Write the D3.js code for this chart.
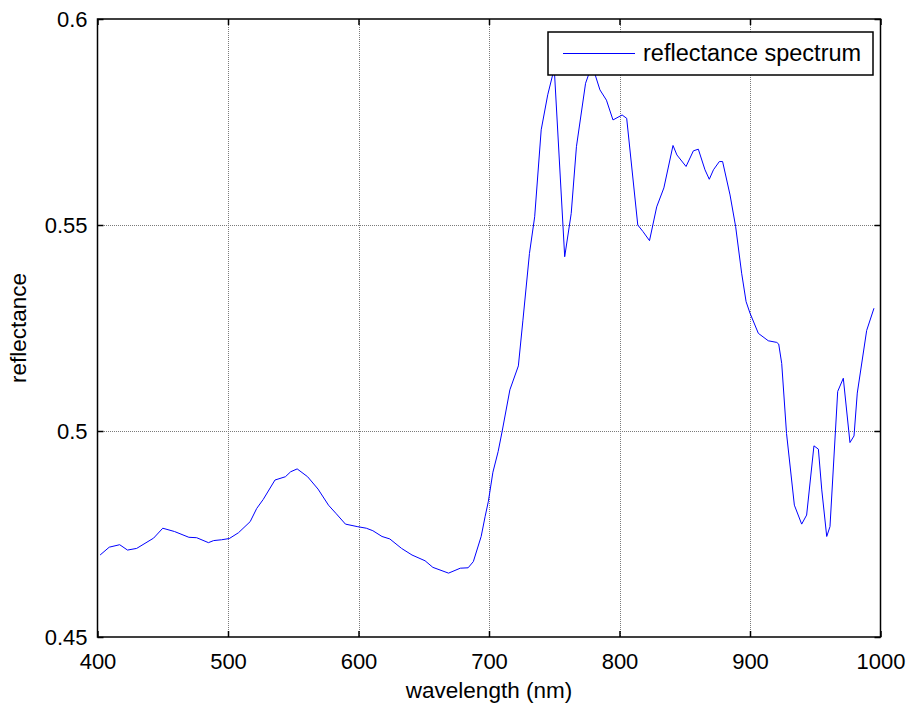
<!DOCTYPE html>
<html>
<head>
<meta charset="utf-8">
<script src="https://cdn.jsdelivr.net/npm/d3@7"></script>
<style>
  body { margin: 0; background: #fff; }
  text { font-family: "Liberation Sans", Arial, sans-serif; fill: #000; }
</style>
</head>
<body>
<div id="graph_container"></div>
<script>
// wavelength (nm) and reflectance
var wavelength = [402, 409, 417, 423, 430, 443, 450, 459, 470, 476, 485, 489, 495, 501, 508, 517, 522, 527, 536, 544,
    548, 553, 561, 569, 577, 583, 590, 599, 606, 611, 618, 624, 633, 641, 651, 657, 669, 678, 684, 688,
    694, 697, 699.5, 703, 707, 710, 716, 722.5, 726, 731, 735, 740, 745, 750, 758, 763, 767, 774, 778, 781,
    785, 790, 795, 802, 805.5, 814, 818, 823, 828.5, 834, 841, 844, 851, 856.6, 860.4, 865.5, 868.8, 872, 876.5, 879,
    884.7, 889, 893.6, 897, 900, 906.4, 914, 920.5, 922, 924.3, 928, 934, 939.6, 943.4, 949, 952.4, 955, 958.8, 961.3, 967.2,
    971.5, 976.6, 979.7, 982.2, 989.4, 995];
var reflectance = [0.4699, 0.4718, 0.4724, 0.4711, 0.4715, 0.4740, 0.4764, 0.4756, 0.4742, 0.4741, 0.4729, 0.4734, 0.4736, 0.4739, 0.4753, 0.4780, 0.4812, 0.4834, 0.4881, 0.4889,
    0.4901, 0.4908, 0.4889, 0.4859, 0.4820, 0.4799, 0.4774, 0.4768, 0.4764, 0.4758, 0.4744, 0.4738, 0.4715, 0.4699, 0.4685, 0.4669, 0.4655, 0.4667, 0.4668, 0.4683,
    0.4744, 0.4792, 0.4829, 0.4900, 0.4950, 0.4998, 0.5100, 0.5158, 0.5269, 0.5431, 0.5520, 0.5731, 0.5816, 0.5880, 0.5423, 0.5528, 0.5690, 0.5844, 0.5880, 0.5868,
    0.5828, 0.5803, 0.5755, 0.5767, 0.5759, 0.5500, 0.5484, 0.5462, 0.5544, 0.5590, 0.5693, 0.5670, 0.5642, 0.5680, 0.5684, 0.5634, 0.5611, 0.5634, 0.5654, 0.5654,
    0.5573, 0.5496, 0.5383, 0.5314, 0.5286, 0.5237, 0.5219, 0.5215, 0.5211, 0.5164, 0.4994, 0.4820, 0.4774, 0.4796, 0.4964, 0.4956, 0.4857, 0.4744, 0.4768, 0.5096,
    0.5128, 0.4972, 0.4988, 0.5092, 0.5244, 0.5298];

var xTicks = [400, 500, 600, 700, 800, 900, 1000];
var xTickLabels = ["400", "500", "600", "700", "800", "900", "1000"];
var yTicks = [0.45, 0.5, 0.55, 0.6];
var yTickLabels = ["0.45", "0.5", "0.55", "0.6"];
var seriesName = "reflectance spectrum";

var W = 912, H = 709;
var pl = 97.5, pr = 880.5, pt = 19, pb = 637;

var x = d3.scaleLinear().domain([400, 1000]).range([pl, pr]);
var y = d3.scaleLinear().domain([0.45, 0.6]).range([pb, pt]);

var svg = d3.select("#graph_container").append("svg")
    .attr("width", W)
    .attr("height", H);

// grid (dotted, snapped to pixels)
svg.append("g").selectAll("line")
    .data(xTicks.slice(1, -1))
    .enter().append("line")
    .attr("x1", function(d) { return Math.round(x(d)) + 0.5; })
    .attr("x2", function(d) { return Math.round(x(d)) + 0.5; })
    .attr("y1", pt).attr("y2", pb)
    .attr("stroke", "#7a7a7a").attr("stroke-width", 1)
    .attr("stroke-dasharray", "1,1")
    .attr("shape-rendering", "crispEdges");
svg.append("g").selectAll("line")
    .data(yTicks.slice(1, -1))
    .enter().append("line")
    .attr("y1", function(d) { return Math.round(y(d)) + 0.5; })
    .attr("y2", function(d) { return Math.round(y(d)) + 0.5; })
    .attr("x1", pl).attr("x2", pr)
    .attr("stroke", "#7a7a7a").attr("stroke-width", 1)
    .attr("stroke-dasharray", "1,1")
    .attr("shape-rendering", "crispEdges");

// axes (ticks inward on all four sides)
var tk = 6;
svg.append("g").attr("transform", "translate(0," + pb + ")")
    .call(d3.axisBottom(x).tickValues(xTicks).tickSize(-tk).tickPadding(16).tickFormat(function(d, i) { return xTickLabels[i]; }));
svg.append("g").attr("transform", "translate(0," + pt + ")")
    .call(d3.axisTop(x).tickValues(xTicks).tickSize(-tk).tickFormat(""));
svg.append("g").attr("transform", "translate(" + pl + ",0)")
    .call(d3.axisLeft(y).tickValues(yTicks).tickSize(-tk).tickPadding(10).tickFormat(function(d, i) { return yTickLabels[i]; }));
svg.append("g").attr("transform", "translate(" + pr + ",0)")
    .call(d3.axisRight(y).tickValues(yTicks).tickSize(-tk).tickFormat(""));

svg.selectAll(".domain").remove();
svg.selectAll(".tick line").attr("stroke", "#000").attr("stroke-width", 1.5);
svg.selectAll(".tick text").style("font-size", "22px").style("font-family", "'Liberation Sans', Arial, sans-serif");

// box
svg.append("rect")
    .attr("x", pl).attr("y", pt)
    .attr("width", pr - pl).attr("height", pb - pt)
    .attr("fill", "none").attr("stroke", "#000").attr("stroke-width", 1.5);

// spectrum
var line = d3.line()
    .x(function(d, i) { return x(wavelength[i]); })
    .y(function(d) { return y(d); });
svg.append("path")
    .datum(reflectance)
    .attr("d", line)
    .attr("fill", "none")
    .attr("stroke", "#0000ff")
    .attr("stroke-width", 1);

// legend
var lg = svg.append("g").attr("transform", "translate(548,32)");
lg.append("rect").attr("width", 325).attr("height", 43)
    .attr("fill", "#fff").attr("stroke", "#000").attr("stroke-width", 1.5);
lg.append("line").attr("x1", 15).attr("x2", 87).attr("y1", 21.5).attr("y2", 21.5)
    .attr("stroke", "#0000ff").attr("stroke-width", 1);
lg.append("text").attr("x", 95).attr("y", 29).style("font-size", "23.5px").text(seriesName);

// axis labels
svg.append("text")
    .attr("x", (pl + pr) / 2).attr("y", 698)
    .style("text-anchor", "middle").style("font-size", "22.5px")
    .text("wavelength (nm)");
svg.append("text")
    .attr("transform", "rotate(-90)")
    .attr("x", -(pt + pb) / 2).attr("y", 26)
    .style("text-anchor", "middle").style("font-size", "22.5px")
    .text("reflectance");
</script>
</body>
</html>
